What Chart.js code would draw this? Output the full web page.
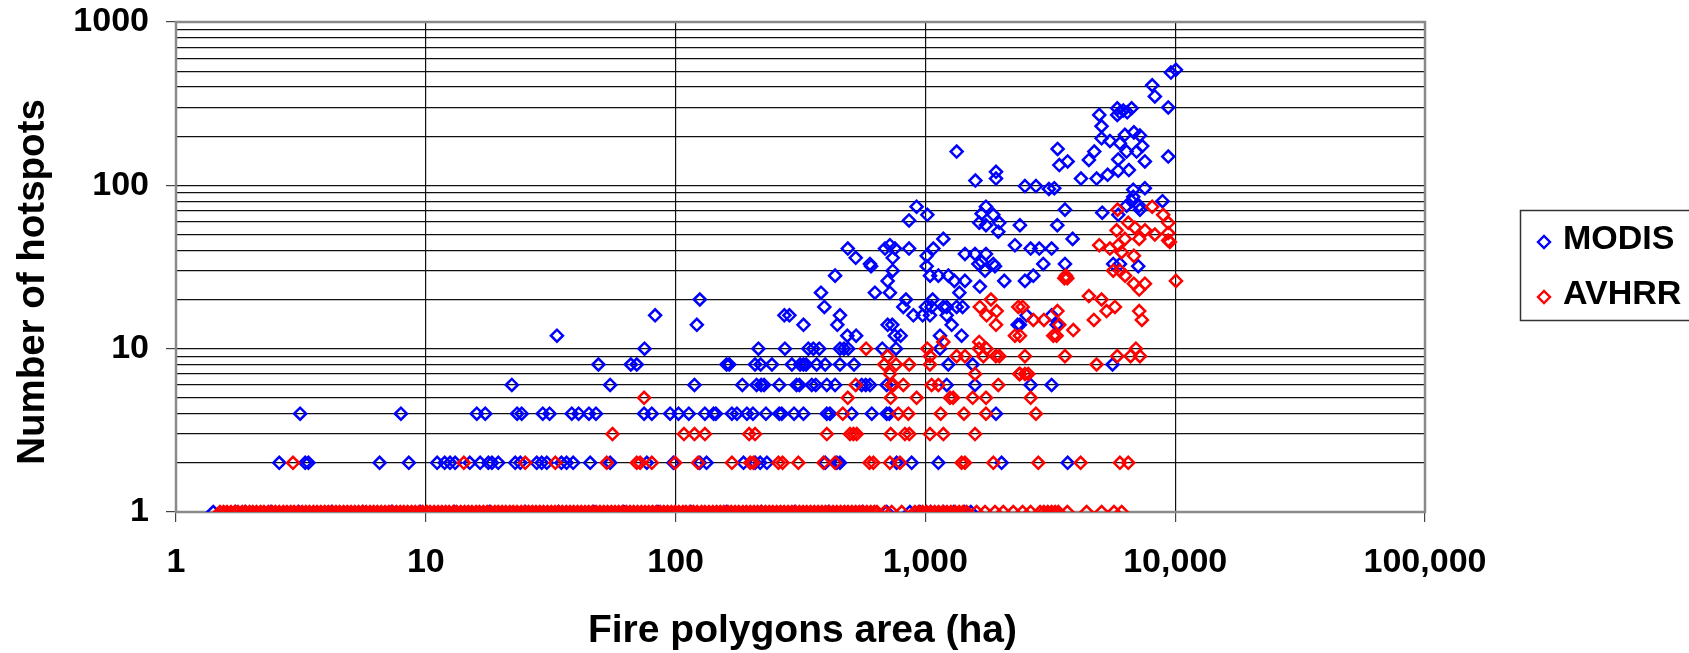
<!DOCTYPE html>
<html>
<head>
<meta charset="utf-8">
<script src="https://cdn.jsdelivr.net/npm/chart.js@4.4.1/dist/chart.umd.min.js"></script>
<style>
  html, body { margin: 0; padding: 0; background: #fff; }
</style>
</head>
<body>
<canvas id="chart" width="1689" height="653"></canvas>
<script>
const FONT = "'Liberation Sans', Arial, sans-serif";
const X_TITLE = 'Fire polygons area (ha)';
const Y_TITLE = 'Number of hotspots';

// axis ticks
const xTicks = [1, 10, 100, 1000, 10000, 100000];
const yGrid = [1, 2, 3, 4, 5, 6, 7, 8, 9, 10, 20, 30, 40, 50, 60, 70, 80, 90,
               100, 200, 300, 400, 500, 600, 700, 800, 900, 1000];
const yLabels = [1, 10, 100, 1000];

// MODIS: fire area (ha) per hotspot count
const modisCount1 = [1.41, 1.73, 1.89, 2.4, 3.1, 4.2, 5.6, 7.3, 9.5, 13, 18, 25, 34, 47, 62, 85, 115, 160,
  220, 300, 410, 560, 700, 867, 950, 1050, 1180, 1300, 1430, 1520];
const modisCount2 = [2.59, 3.29, 3.39, 6.53, 8.55, 11.1, 11.9, 12.5, 13.1, 15.0, 16.5, 17.8, 18.4, 19.5, 22.8,
  23.9, 27.8, 29.1, 30.5, 34.9, 36.6, 38.9, 45.5, 54.7, 76.7, 98, 125, 133, 187, 208, 218, 232, 397, 442, 455,
  767, 881, 1127, 2018, 3710];
const modisCount4 = [3.14, 7.95, 16.0, 17.3, 23.2, 24.2, 29.4, 31.3, 38.4, 40.9, 45, 48, 74.8, 80.3, 95.1,
  102.7, 113, 131, 142, 145, 168, 176, 193, 204, 230, 260, 266, 298, 325, 403, 415, 507, 610, 700, 717, 1917];
const modisCount6 = [22.1, 54.7, 119, 185, 211, 220, 226, 260, 305, 313, 351, 364, 403, 435, 556, 577, 600,
  700, 733, 1217, 1580, 2638, 3201];
const modisCount8 = [49.1, 66.2, 69.9, 160, 164, 208, 219, 243, 292, 315, 325, 333, 367, 397, 455, 518, 1235,
  1546, 5615];
const modisCount10 = [75.1, 214.6, 274, 340, 356, 376, 455, 472, 491, 672, 763, 1144];
const modisOther = [
  [33.5, 12], [487, 12], [528, 12], [755, 12], [796, 12], [1144, 12], [1396, 12],
  [121.6, 14], [325, 14], [444, 14], [706, 14], [737, 14], [1274, 14], [2340, 14], [2390, 14], [3351, 14],
  [82.8, 16], [272.6, 16], [285.5, 16], [455, 16], [895, 16], [975, 16], [1043, 16], [1217, 16], [2541, 16], [3201, 16],
  [394, 18], [816, 18], [1005, 18], [1059, 18], [1180, 18], [1217, 18], [1334, 18], [1409, 18],
  [125, 20], [836, 20], [1069, 20], [382, 22], [628, 22], [721, 22], [1368, 22], [1652, 24],
  [706, 26], [1306, 26], [1440, 26], [2069, 26], [2503, 26],
  [435, 28], [1044, 28], [1127, 28], [1236, 28], [2704, 28], [740, 30], [1732, 30],
  [606, 32], [1012, 32], [1630, 33], [1899, 32], [2964, 33], [3620, 33], [5649, 33], [6010, 33], [7113, 32],
  [1679, 34], [1870, 33], [600, 33], [526, 36], [740, 36], [1012, 37], [1440, 38], [1580, 38], [1748, 38],
  [489, 41], [689, 41], [755, 41], [860, 41], [1076, 41], [2638, 41], [2857, 41], [3201, 41],
  [721, 43], [2283, 43], [1180, 47], [3885, 47], [1958, 52], [1748, 57], [2390, 57], [3373, 57],
  [1643, 59], [1977, 59], [860, 61], [1018, 66], [1870, 66], [5916, 66], [1679, 67], [5105, 68],
  [3620, 71], [7227, 71], [922, 74], [1748, 74], [6390, 75], [7175, 75], [6690, 80], [8898, 80], [6792, 85],
  [3123, 95], [3281, 96], [6792, 94], [7562, 96], [2503, 99], [2770, 99], [1585, 107],
  [1917, 110], [4195, 110], [4845, 110], [5363, 116], [1917, 121], [5916, 123], [6525, 124],
  [3436, 133], [3710, 140], [7562, 140], [4513, 143], [5916, 144], [9380, 150],
  [1334, 161], [4742, 161], [6390, 161], [7005, 161], [3383, 167], [7380, 174], [6006, 181], [5480, 187],
  [5073, 194], [7222, 202], [6290, 204], [6834, 211], [5073, 230],
  [4966, 270], [5862, 270], [6006, 280], [6427, 280], [6194, 287], [5862, 296], [6690, 296],
  [9380, 300], [8290, 350], [8090, 410], [9610, 490], [10064, 510]
];

// AVHRR: fire area (ha) per hotspot count
const avhrrCount1 = [
  1.5, 1.55, 1.6, 1.66, 1.72, 1.77, 1.84, 1.9, 1.97, 2.03, 2.1, 2.18, 2.25, 2.34, 2.42, 2.5, 2.59, 2.69, 2.78,
  2.88, 2.97, 3.08, 3.2, 3.31, 3.42, 3.55, 3.67, 3.8, 3.94, 4.07, 4.22, 4.37, 4.52, 4.69, 4.85, 5.02, 5.2, 5.38,
  5.58, 5.77, 5.98, 6.19, 6.4, 6.63, 6.87, 7.11, 7.36, 7.62, 7.9, 8.17, 8.46, 8.77, 9.07, 9.4, 9.72,
  10.1, 10.4, 10.8, 11.2, 11.6, 12.0, 12.4, 12.9, 13.3, 13.8, 14.3, 14.8, 15.3, 15.9, 16.4, 17.0, 17.6, 18.2,
  18.9, 19.5, 20.2, 20.9, 21.7, 22.4, 23.2, 24.1, 24.9, 25.8, 26.7, 27.6, 28.6, 29.6, 30.7, 31.8, 32.9, 34.0,
  35.2, 36.5, 37.8, 39.1, 40.5, 41.9, 43.4, 44.9, 46.5, 48.1, 49.8, 51.6, 53.4, 55.3, 57.2, 59.2, 61.3, 63.5,
  65.7, 68.0, 70.4, 72.9, 75.5, 78.1, 80.9, 83.7, 86.7, 89.7, 92.9, 96.2, 99.5,
  103, 107, 110, 114, 118, 122, 127, 131, 136, 141, 146, 151, 156, 162, 167, 173, 179, 186, 192, 199, 206,
  213, 221, 229, 237, 245, 254, 263, 272, 282, 292, 302, 313, 324, 335, 347, 359, 372, 385, 398, 412, 427,
  442, 458, 474, 490, 508, 526, 544, 563, 583, 604, 625, 640,
  689, 733, 804, 908, 940, 975, 1010, 1050, 1090, 1130, 1175, 1220, 1265, 1315, 1365, 1415, 1463,
  1604, 1733, 1900, 2050, 2248, 2450, 2637, 2878, 2980, 3090, 3200, 3305, 3404, 3700, 4420, 5077, 5689, 6108
];
const avhrrCount2 = [2.94, 14.2, 25.0, 33.0, 53, 69.9, 72.1, 80.3, 99.5, 123, 168, 199, 205, 258, 268, 310,
  391, 435, 597, 619, 721, 791, 1396, 1440, 1870, 2830, 4182, 6006, 6486];
const avhrrCount3 = [55.9, 108, 119, 131, 197, 208, 403, 499, 515, 531, 726, 828, 862, 1043, 1180, 1580];
const avhrrCount4 = [467, 779, 855, 1151, 1427, 1748, 2770];
const avhrrCount5 = [74.8, 489, 726, 922, 1254, 1291, 1546, 1748, 2638];
const avhrrCount6 = [526, 733, 745, 816, 1059, 1127, 1958];
const avhrrCount7 = [721, 1580, 2376, 2391, 2503, 2581];
const avhrrCount8 = [685, 763, 862, 1043, 4845];
const avhrrCount9 = [706, 1043, 1334, 1440, 1706, 1916, 1977, 2503, 3620, 5862, 6628, 7222];
const avhrrOther = [
  [579, 10], [1018, 10], [1639, 10], [1757, 10], [6962, 10], [1180, 11], [1643, 11],
  [2283, 12], [2390, 12], [3251, 12], [3351, 12], [3908, 13], [1917, 14], [3436, 14],
  [2704, 15], [2982, 15], [4726, 15], [7355, 15], [1757, 16],
  [1929, 17], [3376, 17], [5313, 17], [7175, 17], [1652, 18], [2355, 18], [2451, 18], [5738, 18],
  [1830, 20], [5073, 20], [4513, 21], [7175, 23], [6834, 25], [7566, 25], [10070, 26],
  [3600, 27], [3652, 28], [3700, 27], [6300, 28], [5649, 30], [6010, 30],
  [6834, 37], [6100, 39], [5480, 41], [4966, 43], [5916, 43],
  [9522, 45], [9380, 46], [6290, 47], [7175, 47], [8290, 50], [9380, 51],
  [5825, 53], [7570, 53], [6900, 55], [6486, 59], [9380, 59], [8950, 66], [5880, 71], [8090, 74]
];

const at = (xs, n) => xs.map(x => ({ x: x, y: n }));
const pairs = list => list.map(p => ({ x: p[0], y: p[1] }));

const modisData = [].concat(at(modisCount1, 1), at(modisCount2, 2), at(modisCount4, 4), at(modisCount6, 6),
  at(modisCount8, 8), at(modisCount10, 10), pairs(modisOther));
const avhrrData = [].concat(at(avhrrCount1, 1), at(avhrrCount2, 2), at(avhrrCount3, 3), at(avhrrCount4, 4),
  at(avhrrCount5, 5), at(avhrrCount6, 6), at(avhrrCount7, 7), at(avhrrCount8, 8), at(avhrrCount9, 9),
  pairs(avhrrOther));

// grey frame round the plot area, under the markers
const frame = {
  id: 'frame',
  beforeDatasetsDraw(chart) {
    const { ctx, chartArea: a } = chart;
    ctx.save();
    ctx.strokeStyle = '#8a8a8a';
    ctx.lineWidth = 2.5;
    ctx.strokeRect(a.left, a.top, a.right - a.left, a.bottom - a.top);
    ctx.restore();
  }
};

// axis titles, placed a little off the plot centre as in the original
const axisTitles = {
  id: 'axisTitles',
  afterDraw(chart) {
    const { ctx, chartArea: a } = chart;
    ctx.save();
    ctx.fillStyle = '#000';
    ctx.textAlign = 'center';
    ctx.textBaseline = 'middle';
    ctx.font = 'bold 39px ' + FONT;
    ctx.fillText(X_TITLE, (a.left + a.right) / 2 + 2, 631);
    ctx.translate(33, (a.top + a.bottom) / 2 + 15);
    ctx.rotate(-Math.PI / 2);
    ctx.font = 'bold 38.5px ' + FONT;
    ctx.fillText(Y_TITLE, 0, 0);
    ctx.restore();
  }
};

// boxed legend on the right, partly cut by the canvas edge
const boxLegend = {
  id: 'boxLegend',
  afterDraw(chart) {
    const ctx = chart.ctx;
    const items = [['MODIS', '#0000ff', 240], ['AVHRR', '#ff0000', 295]];
    ctx.save();
    ctx.strokeStyle = '#333';
    ctx.lineWidth = 1.5;
    ctx.strokeRect(1520.5, 210.5, 200, 110);
    items.forEach(([label, color, cy]) => {
      ctx.strokeStyle = color;
      ctx.lineWidth = 2.4;
      ctx.beginPath();
      ctx.moveTo(1538, cy + 2); ctx.lineTo(1544, cy - 4); ctx.lineTo(1550, cy + 2); ctx.lineTo(1544, cy + 8);
      ctx.closePath();
      ctx.stroke();
      ctx.fillStyle = '#000';
      ctx.font = 'bold 34px ' + FONT;
      ctx.textBaseline = 'middle';
      ctx.fillText(label, 1563, cy);
    });
    ctx.restore();
  }
};

const tickFont = { family: FONT, size: 34, weight: 'bold' };

new Chart(document.getElementById('chart'), {
  type: 'scatter',
  data: {
    datasets: [
      { label: 'MODIS', data: modisData, order: 1, borderColor: '#0000ff', backgroundColor: 'rgba(0,0,0,0)',
        pointStyle: 'rectRot', pointRadius: 6, pointBorderWidth: 2.5 },
      { label: 'AVHRR', data: avhrrData, order: 0, borderColor: '#ff0000', backgroundColor: 'rgba(0,0,0,0)',
        pointStyle: 'rectRot', pointRadius: 6, pointBorderWidth: 2.5 }
    ]
  },
  options: {
    responsive: false,
    animation: false,
    layout: { padding: { left: 0, right: 264, top: 22, bottom: 0 } },
    plugins: { legend: { display: false }, tooltip: { enabled: false } },
    scales: {
      x: {
        type: 'logarithmic', min: 1, max: 100000,
        afterBuildTicks: s => { s.ticks = xTicks.map(v => ({ value: v })); },
        afterFit: s => { s.height = 141; },
        ticks: { autoSkip: false, maxRotation: 0, padding: 20, color: '#000', font: tickFont,
                 callback: v => Number(v).toLocaleString('en-US') },
        grid: { color: '#111', lineWidth: 1.2, tickLength: 10, tickColor: '#444' },
        border: { color: '#777', width: 2 },
        title: { display: false }
      },
      y: {
        type: 'logarithmic', min: 1, max: 1000,
        afterBuildTicks: s => { s.ticks = yGrid.map(v => ({ value: v })); },
        afterFit: s => { s.width = 176; s.paddingTop = 0; s.paddingBottom = 0; },
        ticks: { autoSkip: false, padding: 17, color: '#000', font: tickFont,
                 callback: v => yLabels.includes(v) ? String(v) : '' },
        grid: { color: '#111', lineWidth: 1.2, tickLength: 10,
                tickColor: c => (c.tick && yLabels.includes(c.tick.value)) ? '#444' : 'rgba(0,0,0,0)' },
        border: { color: '#777', width: 2 },
        title: { display: false }
      }
    }
  },
  plugins: [frame, axisTitles, boxLegend]
});
</script>
</body>
</html>
